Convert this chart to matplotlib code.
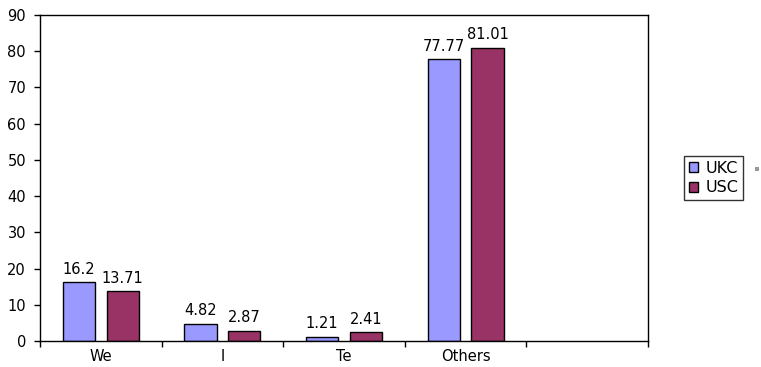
import matplotlib
matplotlib.use("Agg")
import matplotlib.pyplot as plt
import numpy as np
from matplotlib.patches import Rectangle

categories = ["We", "I", "Te", "Others", ""]
ukc = [16.2, 4.82, 1.21, 77.77]
usc = [13.71, 2.87, 2.41, 81.01]
ukc_labels = ["16.2", "4.82", "1.21", "77.77"]
usc_labels = ["13.71", "2.87", "2.41", "81.01"]

plt.rcParams['font.family'] = ['DejaVu Sans']
fs = 10.5

fig = plt.figure(figsize=(7.61, 3.67), dpi=100)
ax = fig.add_axes([40/761, 26/367, 608/761, 326/367])

x = np.arange(len(ukc))
w = 0.265
off = 0.18
ax.bar(x - off, ukc, w, color="#9999FF", edgecolor="black", linewidth=1.0, label="UKC")
ax.bar(x + off, usc, w, color="#993366", edgecolor="black", linewidth=1.0, label="USC")

for xi, v, t in zip(x, ukc, ukc_labels):
    ax.text(xi - off, v + 1.5, t, ha="center", va="bottom", fontsize=fs)
for xi, v, t in zip(x, usc, usc_labels):
    ax.text(xi + off, v + 1.5, t, ha="center", va="bottom", fontsize=fs)

ax.set_xlim(-0.5, len(categories) - 0.5)
ax.set_ylim(0, 90)
ax.set_yticks(np.arange(0, 91, 10))
ax.set_xticks(np.arange(len(categories)))
ax.set_xticklabels(categories, fontsize=fs)
ax.set_xticks(np.arange(len(categories) + 1) - 0.5, minor=True)
ax.tick_params(axis="x", which="major", length=0, pad=6)
ax.tick_params(axis="x", which="minor", length=4, direction="out", width=1)
ax.tick_params(axis="y", length=4, direction="out", width=1, labelsize=fs, pad=6)
for s in ax.spines.values():
    s.set_linewidth(1.0)
    s.set_color("black")

leg = ax.legend(loc="center left", bbox_to_anchor=(684/761, 189/367), bbox_transform=fig.transFigure,
                fontsize=11.5, frameon=True, fancybox=False, edgecolor="black",
                handlelength=0.6, handleheight=0.55, handletextpad=0.45, borderpad=0.3,
                labelspacing=0.3, borderaxespad=0)
leg.get_frame().set_linewidth(1.0)

fig.patches.append(Rectangle((755/761, 196/367), 4/761, 4/367, transform=fig.transFigure,
                             facecolor="#999999", edgecolor="none"))

fig.savefig("out.png", dpi=100)
